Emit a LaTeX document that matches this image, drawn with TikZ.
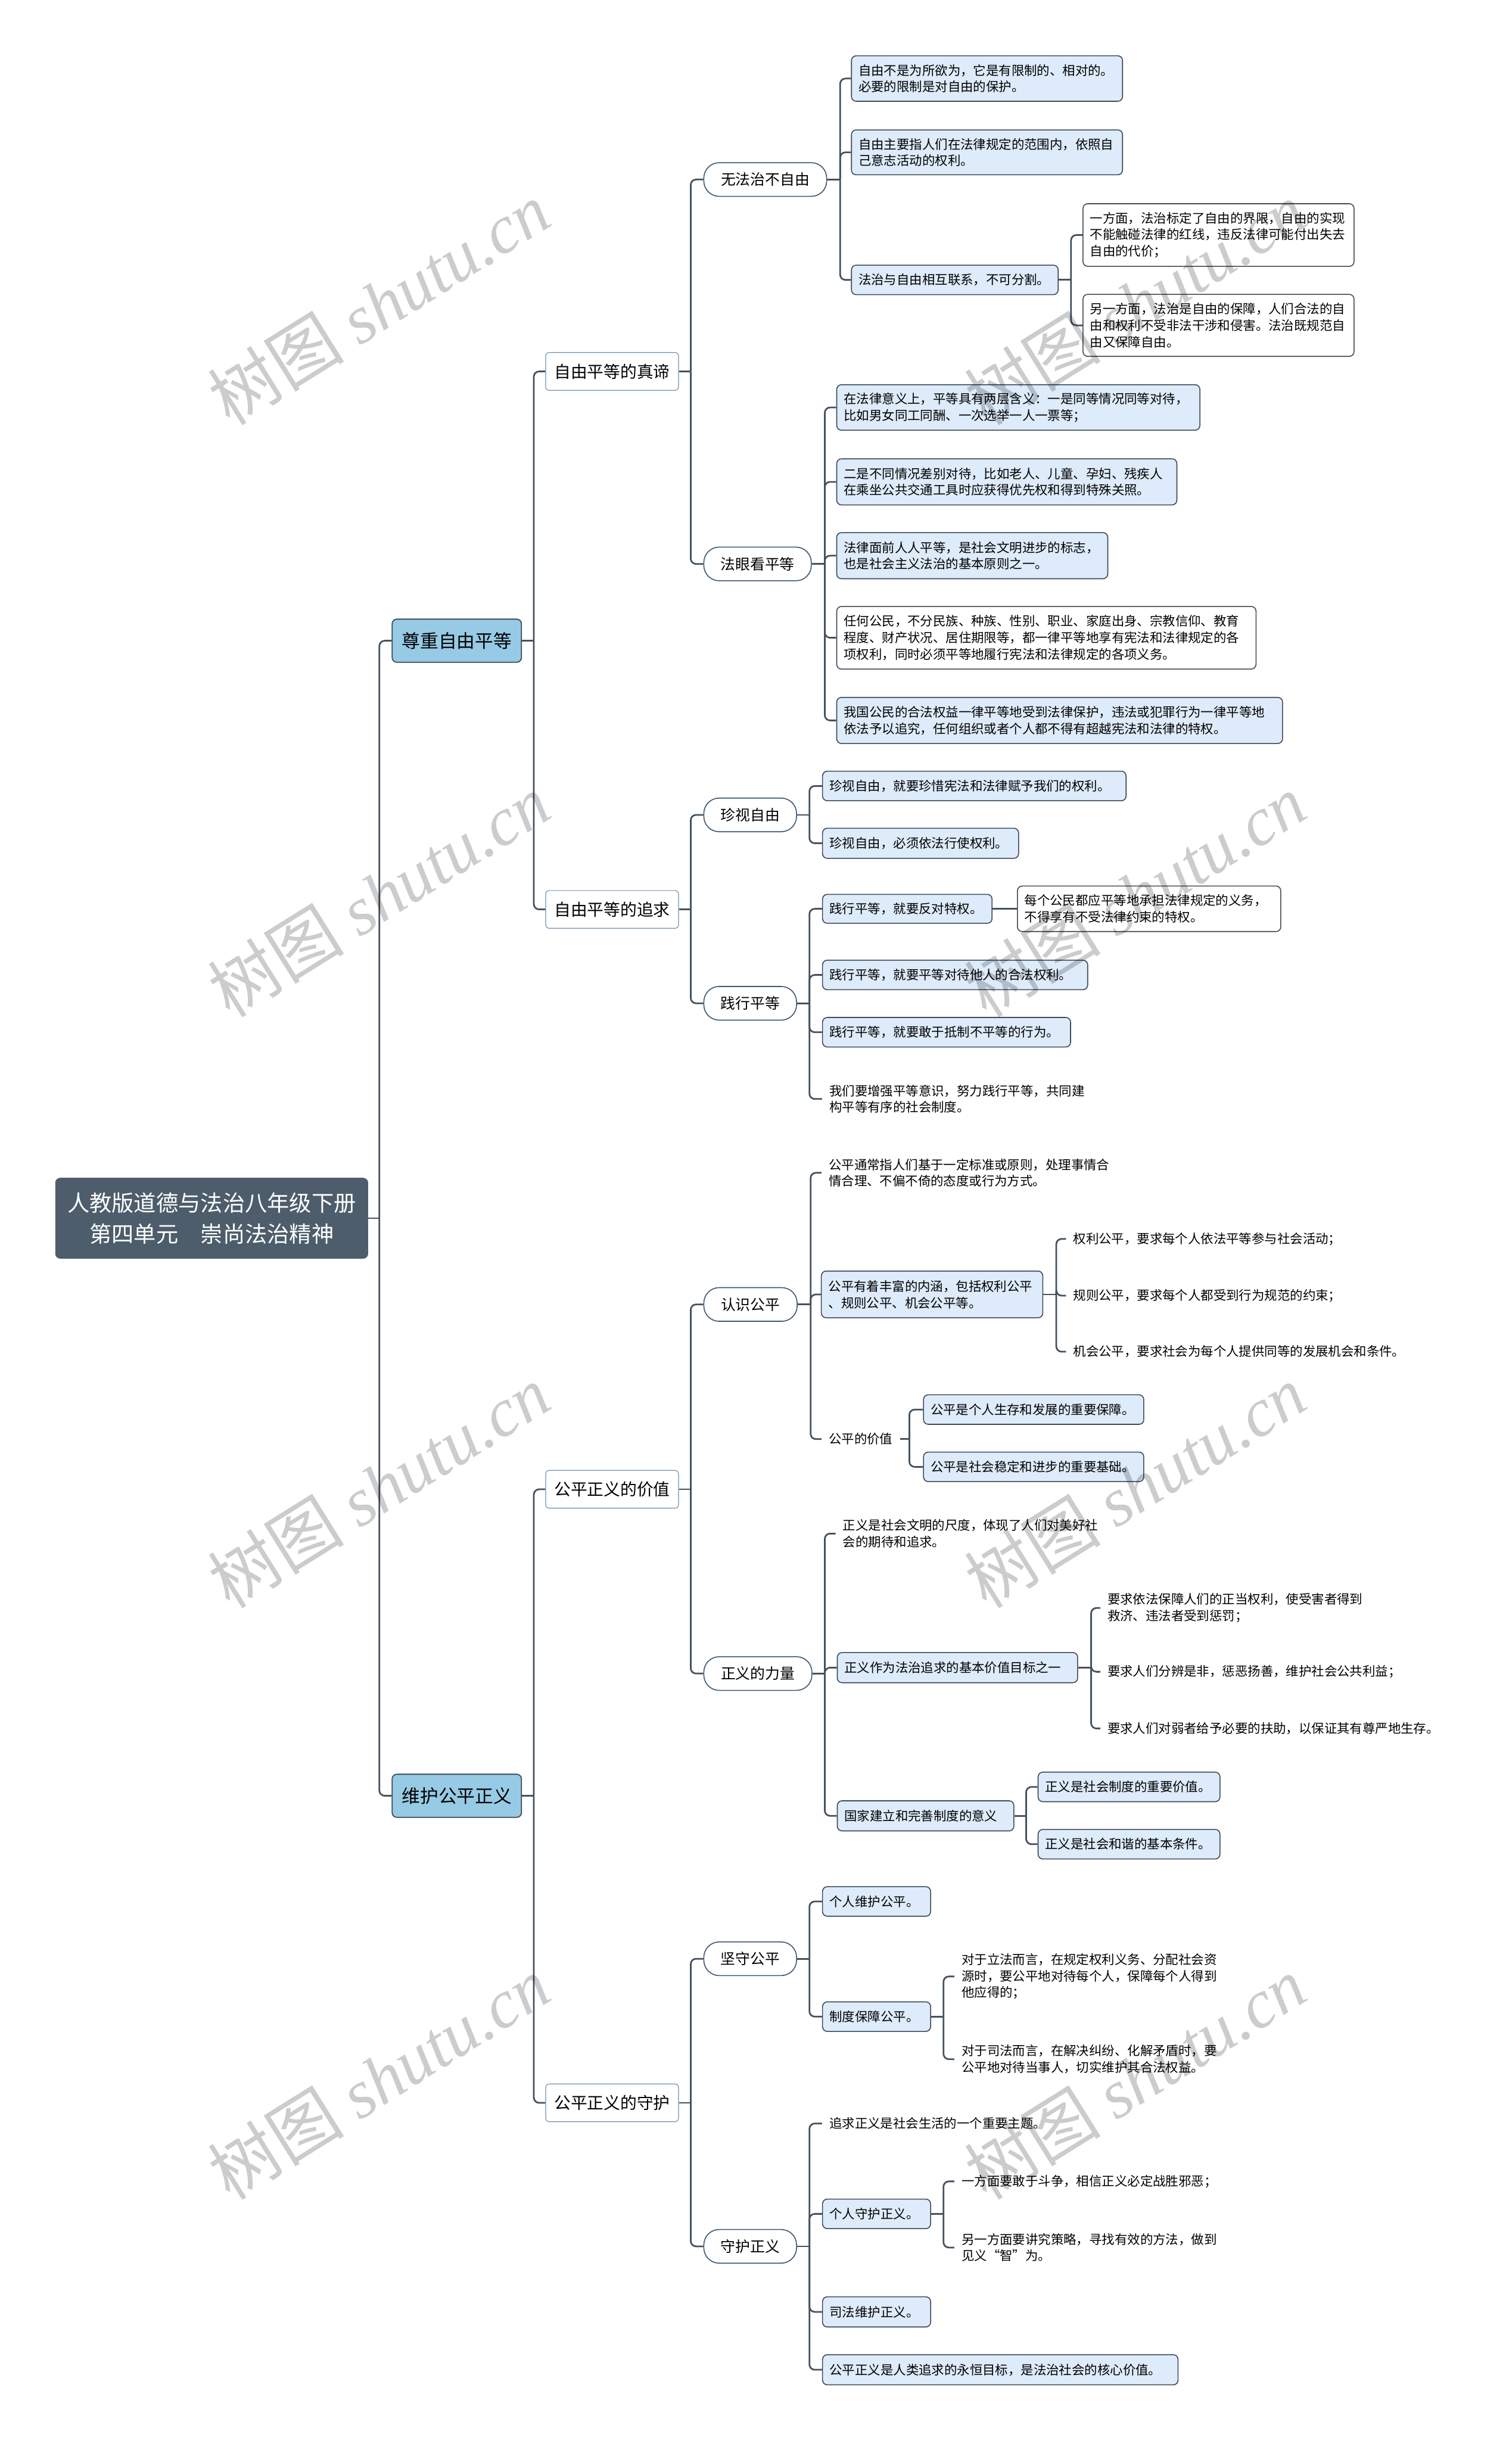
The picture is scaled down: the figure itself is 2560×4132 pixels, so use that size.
\documentclass[tikz,border=0pt]{standalone}
\usepackage{fontspec}
\setmainfont{Noto Sans CJK SC}
\newfontfamily\wmlatin{Liberation Serif}
\usetikzlibrary{calc}
\definecolor{conncol}{HTML}{44525F}
\definecolor{leafblue}{HTML}{DDEBFA}
\definecolor{lvlone}{HTML}{97CAE4}
\definecolor{rootc}{HTML}{4D5D6C}
\definecolor{lvltwoborder}{HTML}{7392AE}
\definecolor{pillborder}{HTML}{3A5573}
\definecolor{boxborder}{HTML}{3D4A57}
\newcommand\fanout[3]{%
  \coordinate (#1J) at ($(#1.east)+(#2,0)$);
  \draw[conn] (#1.east) -- (#1J);
  \foreach \c in {#3} \draw[conn] (#1J) |- (\c.west);
}
\tikzset{
  rootbox/.style={rectangle, rounded corners=4pt, fill=rootc, draw=rootc, text=white,
    font=\fontsize{18.8}{26}\selectfont, align=center, minimum width=264.5pt, minimum height=68pt, inner sep=0pt},
  onebox/.style={rectangle, rounded corners=4pt, fill=lvlone, draw=boxborder, line width=0.9pt,
    font=\fontsize{15.5}{18}\selectfont, minimum width=109.5pt, minimum height=36.5pt, inner sep=0pt},
  twobox/.style={rectangle, rounded corners=3pt, fill=white, draw=lvltwoborder, line width=0.6pt,
    font=\fontsize{14}{17}\selectfont, minimum width=112.5pt, minimum height=32pt, inner sep=0pt},
  pill/.style={rectangle, rounded corners=13pt, fill=white, draw=pillborder, line width=0.8pt,
    font=\fontsize{12.5}{15}\selectfont, minimum height=28.5pt, inner sep=0pt, anchor=west},
  leaf/.style={rectangle, rounded corners=4pt, draw=boxborder, line width=0.8pt,
    font=\fontsize{10.8}{14}\selectfont, align=left, inner xsep=6pt, inner ysep=0pt, anchor=west},
  bl/.style={leaf, fill=leafblue},
  wl/.style={leaf, fill=white},
  plain/.style={rectangle, font=\fontsize{10.8}{14}\selectfont, align=left, inner xsep=6pt, inner ysep=2pt, anchor=west},
  conn/.style={draw=conncol, line width=1.4pt, rounded corners=4.5pt},
  wm/.style={rotate=32, text=black!20, font=\fontsize{58}{58}\selectfont, inner sep=0pt}
}
\begin{document}
\begin{tikzpicture}[x=0.5pt,y=-0.5pt]
\useasboundingbox (0,0) rectangle (2560,4132);
\fill[white] (0,0) rectangle (2560,4132);

% root and main branches
\node[rootbox] (root) at (358.5,2063) {人教版道德与法治八年级下册\\第四单元　崇尚法治精神};
\node[onebox] (l1a) at (773.5,1085) {尊重自由平等};
\node[onebox] (l1b) at (773.5,3041) {维护公平正义};
\node[twobox] (l2a) at (1036.5,629) {自由平等的真谛};
\node[twobox] (l2b) at (1036.5,1540) {自由平等的追求};
\node[twobox] (l2c) at (1036.5,2522) {公平正义的价值};
\node[twobox] (l2d) at (1036.5,3561) {公平正义的守护};

% level 3
\node[pill, minimum width=104pt] (p1) at (1191,304) {无法治不自由};
\node[pill, minimum width=91pt] (p2) at (1191,955) {法眼看平等};
\node[pill, minimum width=78.5pt] (p3) at (1191,1380) {珍视自由};
\node[pill, minimum width=78.5pt] (p4) at (1191,1699) {践行平等};
\node[pill, minimum width=79pt] (p5) at (1191,2209) {认识公平};
\node[pill, minimum width=91.5pt] (p6) at (1191,2834) {正义的力量};
\node[pill, minimum width=78.5pt] (p7) at (1191,3317) {坚守公平};
\node[pill, minimum width=78.5pt] (p8) at (1191,3804) {守护正义};

% 无法治不自由
\node[bl, text width=217.5pt, minimum height=38.5pt] (a1) at (1441,133) {自由不是为所欲为，它是有限制的、相对的。\\必要的限制是对自由的保护。};
\node[bl, text width=217.5pt, minimum height=38pt] (a2) at (1441,258) {自由主要指人们在法律规定的范围内，依照自\\己意志活动的权利。};
\node[bl, text width=163pt, minimum height=25pt] (a3) at (1441,474) {法治与自由相互联系，不可分割。};
\node[wl, text width=217.5pt, minimum height=53pt] (a3a) at (1833,398) {一方面，法治标定了自由的界限，自由的实现\\不能触碰法律的红线，违反法律可能付出失去\\自由的代价；};
\node[wl, text width=217.5pt, minimum height=52.5pt] (a3b) at (1833,551) {另一方面，法治是自由的保障，人们合法的自\\由和权利不受非法干涉和侵害。法治既规范自\\由又保障自由。};

% 法眼看平等
\node[bl, text width=295.5pt, minimum height=38.5pt] (b1) at (1416,690) {在法律意义上，平等具有两层含义：一是同等情况同等对待，\\比如男女同工同酬、一次选举一人一票等；};
\node[bl, text width=276pt, minimum height=39pt] (b2) at (1416,816) {二是不同情况差别对待，比如老人、儿童、孕妇、残疾人\\在乘坐公共交通工具时应获得优先权和得到特殊关照。};
\node[bl, text width=217.5pt, minimum height=39pt] (b3) at (1416,941) {法律面前人人平等，是社会文明进步的标志，\\也是社会主义法治的基本原则之一。};
\node[wl, text width=343pt, minimum height=53pt] (b4) at (1416,1080) {任何公民，不分民族、种族、性别、职业、家庭出身、宗教信仰、教育\\程度、财产状况、居住期限等，都一律平等地享有宪法和法律规定的各\\项权利，同时必须平等地履行宪法和法律规定的各项义务。};
\node[bl, text width=365.5pt, minimum height=39pt] (b5) at (1416,1220) {我国公民的合法权益一律平等地受到法律保护，违法或犯罪行为一律平等地\\依法予以追究，任何组织或者个人都不得有超越宪法和法律的特权。};

% 珍视自由
\node[bl, text width=245pt, minimum height=25pt] (c1) at (1392,1331) {珍视自由，就要珍惜宪法和法律赋予我们的权利。};
\node[bl, text width=154pt, minimum height=25.5pt] (c2) at (1392,1428) {珍视自由，必须依法行使权利。};

% 践行平等
\node[bl, text width=131.5pt, minimum height=24.5pt] (d1) at (1392,1539) {践行平等，就要反对特权。};
\node[wl, text width=211pt, minimum height=38.5pt] (d1a) at (1722,1539) {每个公民都应平等地承担法律规定的义务，\\不得享有不受法律约束的特权。};
\node[bl, text width=212.5pt, minimum height=25pt] (d2) at (1392,1651) {践行平等，就要平等对待他人的合法权利。};
\node[bl, text width=198pt, minimum height=25pt] (d3) at (1392,1748) {践行平等，就要敢于抵制不平等的行为。};
\node[plain] (d4) at (1392,1861) {我们要增强平等意识，努力践行平等，共同建\\构平等有序的社会制度。};

% 认识公平
\node[plain] (e1) at (1391,1986) {公平通常指人们基于一定标准或原则，处理事情合\\情合理、不偏不倚的态度或行为方式。};
\node[bl, text width=175.5pt, minimum height=39.5pt] (e2) at (1390,2192) {公平有着丰富的内涵，包括权利公平\\、规则公平、机会公平等。};
\node[plain] (e2a) at (1805,2098) {权利公平，要求每个人依法平等参与社会活动；};
\node[plain] (e2b) at (1805,2194) {规则公平，要求每个人都受到行为规范的约束；};
\node[plain] (e2c) at (1805,2289) {机会公平，要求社会为每个人提供同等的发展机会和条件。};
\node[plain] (e3) at (1391,2437) {公平的价值};
\node[bl, text width=174.5pt, minimum height=25pt] (e3a) at (1563,2387) {公平是个人生存和发展的重要保障。};
\node[bl, text width=174.5pt, minimum height=25pt] (e3b) at (1563,2484) {公平是社会稳定和进步的重要基础。};

% 正义的力量
\node[plain] (f1) at (1415,2597) {正义是社会文明的尺度，体现了人们对美好社\\会的期待和追求。};
\node[bl, text width=191.5pt, minimum height=25.5pt] (f2) at (1417,2824) {正义作为法治追求的基本价值目标之一};
\node[plain] (f2a) at (1863,2723) {要求依法保障人们的正当权利，使受害者得到\\救济、违法者受到惩罚；};
\node[plain] (f2b) at (1863,2831) {要求人们分辨是非，惩恶扬善，维护社会公共利益；};
\node[plain] (f2c) at (1863,2927) {要求人们对弱者给予必要的扶助，以保证其有尊严地生存。};
\node[bl, text width=137.5pt, minimum height=25.5pt] (f3) at (1417,3075) {国家建立和完善制度的意义};
\node[bl, text width=142pt, minimum height=25pt] (f3a) at (1757,3026) {正义是社会制度的重要价值。};
\node[bl, text width=142pt, minimum height=25pt] (f3b) at (1757,3123) {正义是社会和谐的基本条件。};

% 坚守公平
\node[bl, text width=79.5pt, minimum height=25pt] (g1) at (1392,3220) {个人维护公平。};
\node[bl, text width=79.5pt, minimum height=25pt] (g2) at (1392,3415) {制度保障公平。};
\node[plain] (g2a) at (1616,3347) {对于立法而言，在规定权利义务、分配社会资\\源时，要公平地对待每个人，保障每个人得到\\他应得的；};
\node[plain] (g2b) at (1616,3487) {对于司法而言，在解决纠纷、化解矛盾时，要\\公平地对待当事人，切实维护其合法权益。};

% 守护正义
\node[plain] (h1) at (1392,3596) {追求正义是社会生活的一个重要主题。};
\node[bl, text width=79.5pt, minimum height=25pt] (h2) at (1392,3749) {个人守护正义。};
\node[plain] (h2a) at (1616,3694) {一方面要敢于斗争，相信正义必定战胜邪恶；};
\node[plain] (h2b) at (1616,3806) {另一方面要讲究策略，寻找有效的方法，做到\\见义“智”为。};
\node[bl, text width=79.5pt, minimum height=25.5pt] (h3) at (1392,3915) {司法维护正义。};
\node[bl, text width=289pt, minimum height=25.5pt] (h4) at (1392,4013) {公平正义是人类追求的永恒目标，是法治社会的核心价值。};

% connectors
\fanout{root}{19}{l1a,l1b}
\fanout{l1a}{20}{l2a,l2b}
\fanout{l1b}{20}{l2c,l2d}
\fanout{l2a}{20}{p1,p2}
\fanout{l2b}{20}{p3,p4}
\fanout{l2c}{20}{p5,p6}
\fanout{l2d}{20}{p7,p8}
\fanout{p1}{22}{a1,a2,a3}
\fanout{a3}{21}{a3a,a3b}
\fanout{p2}{22}{b1,b2,b3,b4,b5}
\fanout{p3}{21}{c1,c2}
\fanout{p4}{21}{d1,d2,d3,d4}
\draw[conn] (d1.east) -- (d1a.west);
\fanout{p5}{22}{e1,e2,e3}
\fanout{e2}{22}{e2a,e2b,e2c}
\fanout{e3}{16}{e3a,e3b}
\fanout{p6}{21}{f1,f2,f3}
\fanout{f2}{22}{f2a,f2b,f2c}
\fanout{f3}{20}{f3a,f3b}
\fanout{p7}{21}{g1,g2}
\fanout{g2}{21}{g2a,g2b}
\fanout{p8}{21}{h1,h2,h3,h4}
\fanout{h2}{21}{h2a,h2b}

% watermarks (multiplied over the drawing so dark text stays readable)
\begin{scope}[blend mode=multiply]
\foreach \wy [count=\i] in {514,1516,2517,3519} {
  \node[wm] (wml\i) at (641,\wy) {树图 {\wmlatin\itshape shutu.cn}};
  \node[wm] (wmr\i) at (1922,\wy) {树图 {\wmlatin\itshape shutu.cn}};
}
\end{scope}
\end{tikzpicture}
\end{document}
